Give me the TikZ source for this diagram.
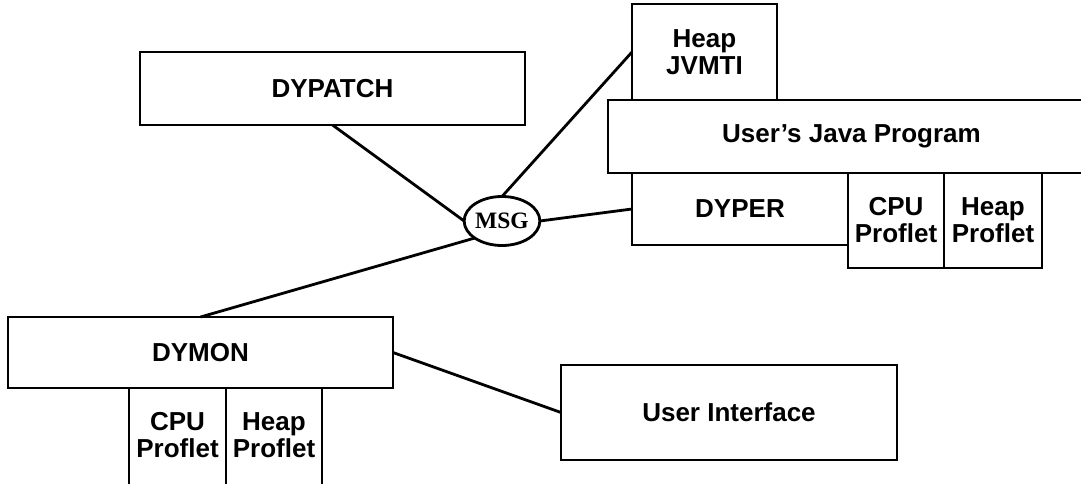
\documentclass[tikz,border=0pt]{standalone}
\usepackage{fontspec}
\setmainfont{Liberation Sans}
\newfontfamily\msgfont{Liberation Serif}
\usetikzlibrary{shapes.geometric}
\begin{document}
\begin{tikzpicture}[x=1pt, y=-1pt, line width=2.8pt,
  box/.style={draw, rectangle, inner sep=0pt, outer sep=0pt, align=center,
    font=\bfseries\fontsize{26}{27}\selectfont},
  openbox/.style={box, draw=none},
  hub/.style={draw, ellipse, inner sep=0pt, outer sep=0pt,
    minimum width=72pt, minimum height=49pt,
    font=\msgfont\bfseries\fontsize{23.5}{25}\selectfont},
  link/.style={line width=2.8pt}]
\clip (0,0) rectangle (1081,483);
\fill[white] (0,0) rectangle (1081,483);

% components
\node[box, minimum width=385pt, minimum height=73pt] (dypatch) at (332.5,88.5) {DYPATCH};
\node[box, minimum width=145pt, minimum height=96pt] (jvmti) at (704.5,52) {Heap\\JVMTI};
\node[box, minimum width=487pt, minimum height=73pt] (java) at (851.5,136.5) {User’s Java Program};
\node[box, minimum width=216pt, minimum height=72pt] (dyper) at (740,209) {DYPER};
\node[box, minimum width=96pt, minimum height=95pt] (cpuA) at (896,220.5) {CPU\\Proflet};
\node[box, minimum width=98pt, minimum height=95pt] (heapA) at (993,220.5) {Heap\\Proflet};
\node[hub] (msg) at (502,221) {MSG};
\node[box, minimum width=385pt, minimum height=71pt] (dymon) at (200.5,352.5) {DYMON};
\node[openbox, minimum width=97pt, minimum height=95pt] (cpuB) at (177.5,435.5) {CPU\\Proflet};
\node[openbox, minimum width=96pt, minimum height=95pt] (heapB) at (274,435.5) {Heap\\Proflet};
\node[box, minimum width=336pt, minimum height=95pt] (ui) at (729,412.5) {User Interface};

% profilers under DYMON run off the bottom edge
\draw ([yshift=-12pt]cpuB.south west) |- (heapB.north east) -- ([yshift=-12pt]heapB.south east);
\draw (cpuB.north east) -- ([yshift=-12pt]cpuB.south east);

% message bus links
\draw[link] (dypatch.south) -- (msg.west);
\draw[link] (msg.north) -- (jvmti.west);
\draw[link] (msg.east) -- (dyper.west);
\draw[link] (msg.212) -- (dymon.north);
\draw[link] (dymon.east) -- (ui.west);
\end{tikzpicture}
\end{document}
